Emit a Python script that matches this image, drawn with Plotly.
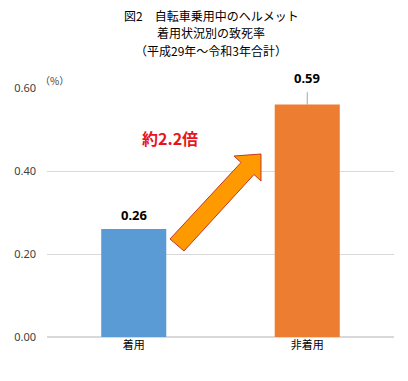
import plotly.graph_objects as go

categories = ["着用", "非着用"]
bar_heights = [0.26, 0.56]
label_values = [0.26, 0.59]
value_labels = ["0.26", "0.59"]
bar_colors = ["#5B9BD5", "#ED7D31"]
tick_vals = [0.0, 0.2, 0.4, 0.6]
tick_text = ["0.00", "0.20", "0.40", "0.60"]
title_lines = ["図2　自転車乗用中のヘルメット", "着用状況別の致死率", "（平成29年～令和3年合計）"]

W, H = 408, 381
L, R, T, B = 47, 14, 88, 44
pw, ph = W - L - R, H - T - B

def px(x):
    return (x - L) / pw

def py(y):
    return (H - B - y) / ph

fig = go.Figure()
fig.add_trace(go.Bar(
    x=categories, y=bar_heights,
    marker=dict(color=bar_colors, line=dict(width=0)),
    width=0.375, hoverinfo="skip",
))

font_jp = "Noto Sans CJK JP"

# value labels
for c, v, t in zip(categories, label_values, value_labels):
    fig.add_annotation(x=c, y=v, text="<b>" + t + "</b>", showarrow=False,
                       yshift=14, font=dict(size=13, color="#000000", family="Noto Sans"))

# leader line for second label
fig.add_shape(type="line", xref="x", yref="y", x0=categories[1], x1=categories[1],
              y0=bar_heights[1], y1=label_values[1], line=dict(color="#A6A6A6", width=1))

# arrow polygon (pixel coords -> paper)
pts = [(170, 239), (241, 162.5), (234, 156), (261, 154), (261, 181), (254, 174.5), (184, 251)]
path = "M " + " L ".join(f"{px(x):.4f},{py(y):.4f}" for x, y in pts) + " Z"
fig.add_shape(type="path", xref="paper", yref="paper", path=path,
              fillcolor="#FF9900", line=dict(color="#C0392B", width=1))

# ratio text
fig.add_annotation(xref="paper", yref="paper", x=px(170), y=py(138), text="<b>約2.2倍</b>",
                   showarrow=False, font=dict(size=16, color="#E8141C", family=font_jp))

# unit
fig.add_annotation(xref="paper", yref="paper", x=px(54), y=py(80), text="（%）",
                   showarrow=False, font=dict(size=10, color="#404040", family=font_jp))

# title
for line, yy in zip(title_lines, [15.5, 33, 50.5]):
    fig.add_annotation(xref="paper", yref="paper", x=px(211), y=py(yy), text=line,
                       showarrow=False, align="center",
                       font=dict(size=12, color="#000000", family=font_jp))

fig.update_layout(
    width=W, height=H,
    margin=dict(l=L, r=R, t=T, b=B),
    paper_bgcolor="white", plot_bgcolor="white",
    showlegend=False, bargap=0.625,
    xaxis=dict(showgrid=False, showline=False, zeroline=False, ticks="", automargin=False,
               tickfont=dict(size=11, color="#000000", family=font_jp)),
    yaxis=dict(range=[0, 0.6], tickvals=tick_vals, ticktext=tick_text, automargin=False,
               showgrid=True, gridcolor="#D9D9D9", gridwidth=1,
               zeroline=True, zerolinecolor="#D9D9D9", showline=False,
               ticklabelstandoff=10,
               tickfont=dict(size=11, color="#404040", family="Noto Sans")),
)
fig.update_annotations(yanchor="middle", xanchor="center")

fig.write_html("out.html", post_script="document.body.style.margin='0';",
               config={"displayModeBar": False})
